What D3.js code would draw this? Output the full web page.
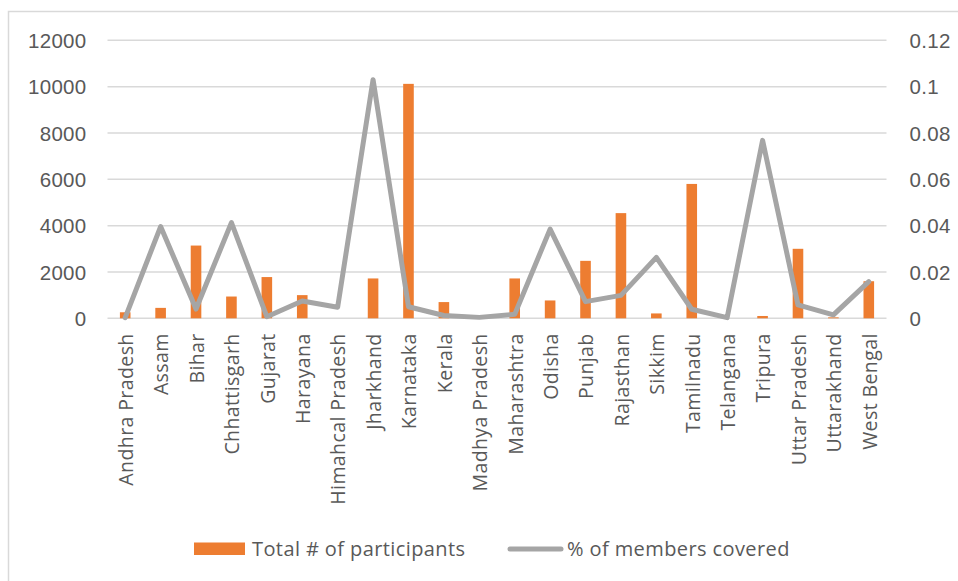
<!DOCTYPE html>
<html>
<head>
<meta charset="utf-8">
<script src="https://cdn.jsdelivr.net/npm/d3@7"></script>
<style>
  html, body { margin: 0; padding: 0; background: #ffffff; }
  svg { display: block; font-family: "Open Sans", "Noto Sans", sans-serif; }
</style>
</head>
<body>
<svg id="chart" width="958" height="581"></svg>
<script>
// States covered by the programme
const states = [
  "Andhra Pradesh", "Assam", "Bihar", "Chhattisgarh", "Gujarat", "Harayana",
  "Himahcal Pradesh", "Jharkhand", "Karnataka", "Kerala", "Madhya Pradesh",
  "Maharashtra", "Odisha", "Punjab", "Rajasthan", "Sikkim", "Tamilnadu",
  "Telangana", "Tripura", "Uttar Pradesh", "Uttarakhand", "West Bengal"
];

// Total # of participants per state
const participants = [
  260, 450, 3140, 940, 1780, 1000,
  0, 1720, 10120, 700, 0,
  1720, 770, 2480, 4540, 210, 5800,
  0, 100, 3000, 40, 1600
];

// Share of members covered per state
const membersCovered = [
  0.0003, 0.0396, 0.0040, 0.0413, 0.0007, 0.0075,
  0.0048, 0.1030, 0.0050, 0.0012, 0.0004,
  0.0017, 0.0385, 0.0072, 0.0099, 0.0263, 0.0039,
  0.0003, 0.0768, 0.0058, 0.0015, 0.0158
];

// Axis ticks
const leftTicks = [0, 2000, 4000, 6000, 8000, 10000, 12000];
const rightTicks = [0, 0.02, 0.04, 0.06, 0.08, 0.1, 0.12];

const barColor = "#ed7d31";
const lineColor = "#a5a5a5";
const gridColor = "#d9d9d9";
const textColor = "#595959";

const svg = d3.select("#chart");

// Outer chart frame
svg.append("rect")
  .attr("x", 8.5).attr("y", 11.5)
  .attr("width", 1000).attr("height", 1000)
  .attr("fill", "none")
  .attr("stroke", gridColor)
  .attr("stroke-width", 1.5);

const plot = { left: 107.5, right: 886.5, top: 40.3, bottom: 318.3 };

const xCenter = d3.scalePoint()
  .domain(states)
  .range([plot.left, plot.right])
  .padding(0.5);

const yLeft = d3.scaleLinear().domain([0, 12000]).range([plot.bottom, plot.top]);
const yRight = d3.scaleLinear().domain([0, 0.12]).range([plot.bottom, plot.top]);

// Horizontal gridlines
svg.append("g")
  .selectAll("line")
  .data(leftTicks)
  .join("line")
  .attr("x1", plot.left).attr("x2", plot.right)
  .attr("y1", d => yLeft(d)).attr("y2", d => yLeft(d))
  .attr("stroke", gridColor)
  .attr("stroke-width", 1.5);

// Left axis
const leftAxis = svg.append("g")
  .attr("transform", `translate(${plot.left - 21},0)`)
  .call(d3.axisLeft(yLeft).tickValues(leftTicks).tickSize(0).tickPadding(0).tickFormat(d3.format("d")));
leftAxis.select(".domain").remove();
leftAxis.selectAll("text")
  .attr("fill", textColor)
  .style("font-size", "20.5px")
  .style("letter-spacing", "0.3px")
  .attr("dy", "0.35em");

// Right axis
const rightAxis = svg.append("g")
  .attr("transform", `translate(${plot.right + 23},0)`)
  .call(d3.axisRight(yRight).tickValues(rightTicks).tickSize(0).tickPadding(0).tickFormat(d => d === 0 ? "0" : String(+d.toFixed(2))));
rightAxis.select(".domain").remove();
rightAxis.selectAll("text")
  .attr("fill", textColor)
  .style("font-size", "20.5px")
  .style("letter-spacing", "0.3px")
  .attr("dy", "0.35em");

// Bars
svg.append("g")
  .selectAll("rect")
  .data(states)
  .join("rect")
  .attr("x", d => xCenter(d) - 5.3)
  .attr("width", 10.6)
  .attr("y", (d, i) => yLeft(participants[i]))
  .attr("height", (d, i) => plot.bottom - yLeft(participants[i]))
  .attr("fill", barColor);

// Line
const line = d3.line()
  .x((d, i) => xCenter(states[i]))
  .y(d => yRight(d));

svg.append("path")
  .datum(membersCovered)
  .attr("d", line)
  .attr("fill", "none")
  .attr("stroke", lineColor)
  .attr("stroke-width", 5)
  .attr("stroke-linejoin", "round")
  .attr("stroke-linecap", "round");

// Category labels, rotated
svg.append("g")
  .selectAll("text")
  .data(states)
  .join("text")
  .attr("transform", d => `translate(${xCenter(d) + 1},${plot.bottom + 15}) rotate(-90)`)
  .attr("text-anchor", "end")
  .attr("dy", "0.35em")
  .attr("fill", textColor)
  .style("font-size", "19.5px")
  .style("letter-spacing", "0.4px")
  .text(d => d);

// Legend
const legend = svg.append("g");
legend.append("rect")
  .attr("x", 194).attr("y", 542.5)
  .attr("width", 51).attr("height", 12.5)
  .attr("fill", barColor);
legend.append("text")
  .attr("x", 252).attr("y", 549)
  .attr("dy", "0.35em")
  .attr("fill", textColor)
  .style("font-size", "20px")
  .style("letter-spacing", "0.4px")
  .text("Total # of participants");
legend.append("line")
  .attr("x1", 510).attr("x2", 561)
  .attr("y1", 549).attr("y2", 549)
  .attr("stroke", lineColor)
  .attr("stroke-width", 5)
  .attr("stroke-linecap", "round");
legend.append("text")
  .attr("x", 567).attr("y", 549)
  .attr("dy", "0.35em")
  .attr("fill", textColor)
  .style("font-size", "20px")
  .style("letter-spacing", "0.4px")
  .text("% of members covered");
</script>
</body>
</html>
